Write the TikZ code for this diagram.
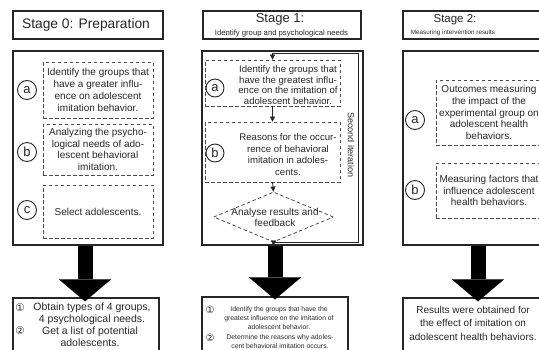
\documentclass[tikz,border=0pt]{standalone}
\usepackage{fontspec}
\setmainfont{Liberation Sans}
\newfontfamily\symfont{DejaVu Sans}
\usetikzlibrary{shapes.geometric,arrows.meta,calc}
\begin{document}
\begin{tikzpicture}[x=1pt,y=-1pt,
  box/.style={draw=black!85, line width=1.3pt, inner sep=0pt},
  dbox/.style={draw=black!70, dash pattern=on 3.5pt off 2.5pt, line width=0.8pt, inner sep=0pt},
  circ/.style={circle, draw=black!85, line width=0.9pt, minimum size=19pt, inner sep=0pt, text=black!85, font=\fontsize{13}{13}\selectfont},
  txt/.style={align=center, inner sep=0pt, text=black!85, font=\fontsize{10}{11.8}\selectfont},
  smalltxt/.style={align=center, inner sep=0pt, text=black!85, font=\fontsize{6.8}{9}\selectfont},
  numtxt/.style={inner sep=0pt, text=black!85, font=\symfont\fontsize{10}{10}\selectfont},
  bigarrow/.style={draw=black, line width=15pt, -{Triangle[width=52pt,length=22pt,line width=0.1pt]}},
  smallarrow/.style={draw=black!85, line width=0.8pt, -{Triangle[width=5pt,length=5pt,line width=0.1pt]}}
]
\useasboundingbox (0,0) rectangle (539,349);
\clip (0,0) rectangle (539,349);

% ---------------- Stage 0 ----------------
\node[box, minimum width=150pt, minimum height=28pt] (h0) at (88,25) {};
\node[txt, font=\fontsize{13.8}{15}\selectfont] (h0t) at (86,25) {Stage 0: Preparation};
\node[box, minimum width=150pt, minimum height=194pt] (m0) at (88,148) {};
\node[txt, dbox, minimum width=110pt, minimum height=56pt] (d0a) at (98,90) {Identify the groups that\\have a greater influ-\\ence on adolescent\\imitation behavior.};
\node[txt, dbox, minimum width=110pt, minimum height=51pt] (d0b) at (98,149.5) {Analyzing the psycho-\\logical needs of ado-\\lescent behavioral\\imitation.};
\node[txt, dbox, minimum width=110pt, minimum height=53pt] (d0c) at (98,211.5) {Select adolescents.};
\node[circ] (c0a) at (27,90) {a};
\node[circ] (c0b) at (27,152) {b};
\node[circ] (c0c) at (27,210) {c};
\node[box, minimum width=146pt, minimum height=64pt] (b0) at (86,330) {};
\draw[bigarrow] ([xshift=-3pt]m0.south) -- ([xshift=-3pt,yshift=-4pt]m0.south |- b0.north);
\node[numtxt, font=\symfont\fontsize{10.5}{10.5}\selectfont] (n0a) at (20,308) {①};
\node[numtxt, font=\symfont\fontsize{10.5}{10.5}\selectfont] (n0b) at (20,331) {②};
\node[txt, font=\fontsize{10.5}{11.5}\selectfont] (t0a) at (92,314) {Obtain types of 4 groups,\\4 psychological needs.};
\node[txt, font=\fontsize{10.5}{11.5}\selectfont] (t0b) at (90,336.5) {Get a list of potential\\adolescents.};

% ---------------- Stage 1 ----------------
\node[box, minimum width=158pt, minimum height=28pt] (h1) at (282,25) {};
\node[txt, font=\fontsize{13}{14}\selectfont] (h1t) at (280,19.5) {Stage 1:};
\node[txt, font=\fontsize{7.7}{9}\selectfont] (h1s) at (281.5,33.5) {Identify group and psychological needs};
\node[box, minimum width=161pt, minimum height=194pt] (m1) at (282.5,148) {};
\node[dbox, minimum width=135pt, minimum height=46pt] (d1a) at (272.5,83) {};
\node[txt, font=\fontsize{9.6}{10.5}\selectfont] (d1at) at (288,85) {Identify the groups that\\have the greatest influ-\\ence on the imitation of\\adolescent behavior.};
\node[dbox, minimum width=135pt, minimum height=60pt] (d1b) at (272.5,152) {};
\node[txt, font=\fontsize{9.6}{11.7}\selectfont] (d1bt) at (288,154.5) {Reasons for the occur-\\rence of behavioral\\imitation in adoles-\\cents.};
\node[circ, minimum size=18pt] (c1a) at (215,88) {a};
\node[circ, minimum size=18pt] (c1b) at (215,153) {b};
\node[diamond, dbox, minimum width=120pt, minimum height=50pt] (dm) at (273.5,217) {};
\node[txt] (dmt) at (275,217.5) {Analyse results and\\feedback};
\draw[smallarrow] (d1a.south) -- (d1b.north);
\draw[smallarrow] (d1b.south) -- (dm.north);
\coordinate (loopT) at (358,53);
\draw[smallarrow] (dm.south) -| (loopT) -| (d1a.north);
\coordinate (m1b) at (m1.south -| dm.south);
\draw[smallarrow] (dm.south) -- (m1b);
\node[txt, rotate=-90, font=\fontsize{9}{10}\selectfont] (si) at (351,145) {Second iteration};
\node[box, minimum width=146pt, minimum height=65pt] (b1) at (275,329.5) {};
\draw[bigarrow] ([xshift=-7.5pt]m1.south) -- ([xshift=-7.5pt,yshift=-3pt]m1.south |- b1.north);
\node[numtxt] (n1a) at (210,309.5) {①};
\node[numtxt] (n1b) at (210,337.5) {②};
\node[smalltxt] (t1a) at (279,318.5) {Identify the groups that have the\\greatest influence on the imitation of\\adolescent behavior.};
\node[smalltxt] (t1b) at (280,341.5) {Determine the reasons why adoles-\\cent behavioral imitation occurs.};

% ---------------- Stage 2 ----------------
\node[box, minimum width=162pt, minimum height=28pt] (h2) at (484,25) {};
\node[txt, font=\fontsize{11.5}{12}\selectfont] (h2t) at (455,19.5) {Stage 2:};
\node[txt, font=\fontsize{6.3}{8}\selectfont] (h2s) at (453,33) {Measuring intervention results};
\node[box, minimum width=162pt, minimum height=194pt] (m2) at (484,148) {};
\node[txt, dbox, minimum width=106pt, minimum height=65pt] (d2a) at (489,112.5) {Outcomes measuring\\the impact of the\\experimental group on\\adolescent health\\behaviors.};
\node[txt, dbox, minimum width=106pt, minimum height=55pt] (d2b) at (489,190.5) {Measuring factors that\\influence adolescent\\health behaviors.};
\node[circ] (c2a) at (415,120) {a};
\node[circ] (c2b) at (415,190) {b};
\node[box, minimum width=162pt, minimum height=64pt] (b2) at (484,330) {};
\draw[bigarrow] ([xshift=-6pt]m2.south) -- ([xshift=-6pt,yshift=-4pt]m2.south |- b2.north);
\node[txt, font=\fontsize{10}{13.5}\selectfont] (t2) at (473,323) {Results were obtained for\\the effect of imitation on\\adolescent health behaviors.};
\end{tikzpicture}
\end{document}
